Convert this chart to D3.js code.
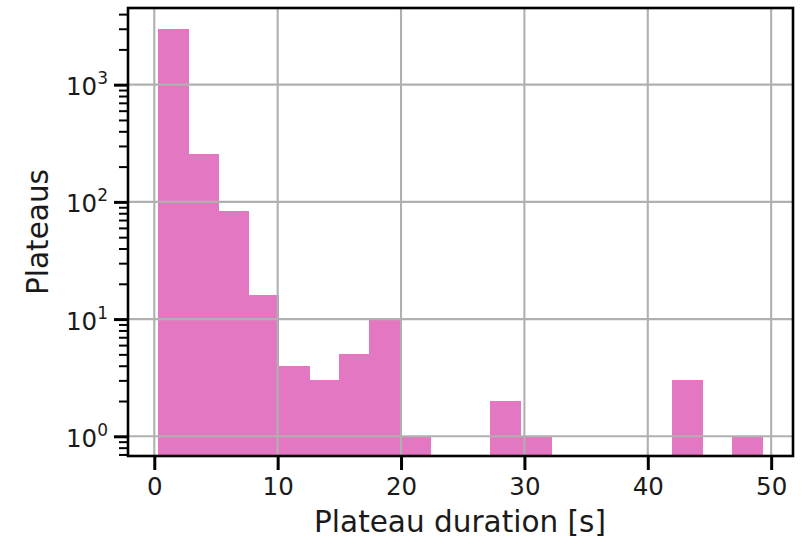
<!DOCTYPE html>
<html>
<head>
<meta charset="utf-8">
<script src="https://cdn.jsdelivr.net/npm/d3@7"></script>
<style>
  html, body { margin: 0; padding: 0; background: #fff; }
  svg { display: block; font-family: "DejaVu Sans", sans-serif; }
</style>
</head>
<body>
<svg id="chart" width="812" height="538"></svg>
<script>
// Data
const binEdges = [0.28, 2.73, 5.18, 7.64, 10.09, 12.54, 14.99, 17.44, 19.89, 22.34,
                  24.80, 27.25, 29.70, 32.15, 34.60, 37.05, 39.50, 41.96, 44.41, 46.86, 49.31];
const counts = [3000, 255, 84, 16, 4, 3, 5, 10, 1, 0, 0, 2, 1, 0, 0, 0, 0, 3, 0, 1];
const xTicks = [0, 10, 20, 30, 40, 50];
const yMajorTicks = [1, 10, 100, 1000];
const yTickExponents = ["0", "1", "2", "3"];
const xLabel = "Plateau duration [s]";
const yLabel = "Plateaus";

const svg = d3.select("#chart");
const m = { left: 128, top: 8, right: 793, bottom: 456 };

const x = d3.scaleLinear().domain([-2.13, 51.77]).range([m.left, m.right]);
const y = d3.scaleLog().domain([0.679, 4510]).range([m.bottom, m.top]);

const bins = counts.map((c, i) => ({ x0: binEdges[i], x1: binEdges[i + 1], c }));

// clip
svg.append("defs").append("clipPath").attr("id", "clip")
  .append("rect").attr("x", m.left).attr("y", m.top)
  .attr("width", m.right - m.left).attr("height", m.bottom - m.top);

const plot = svg.append("g").attr("clip-path", "url(#clip)");

// bars
plot.selectAll("rect.bar").data(bins.filter(d => d.c > 0)).enter()
  .append("rect").attr("class", "bar")
  .attr("x", d => x(d.x0))
  .attr("width", d => x(d.x1) - x(d.x0) + 0.6)
  .attr("y", d => y(d.c))
  .attr("height", d => m.bottom + 5 - y(d.c))
  .attr("fill", "#e377c2")
  .attr("shape-rendering", "crispEdges");

// grid (drawn over bars)
const gridColor = "#b0b0b0";
plot.selectAll("line.gx").data(xTicks).enter().append("line")
  .attr("x1", d => x(d)).attr("x2", d => x(d))
  .attr("y1", m.top).attr("y2", m.bottom)
  .attr("stroke", gridColor).attr("stroke-width", 2.1);
plot.selectAll("line.gy").data(yMajorTicks).enter().append("line")
  .attr("x1", m.left).attr("x2", m.right)
  .attr("y1", d => y(d)).attr("y2", d => y(d))
  .attr("stroke", gridColor).attr("stroke-width", 2.1);

// x axis
const xAxis = d3.axisBottom(x).tickValues(xTicks).tickSize(14).tickPadding(8)
  .tickFormat(d3.format("d"));
const gx = svg.append("g").attr("transform", `translate(0,${m.bottom})`).call(xAxis);
gx.select(".domain").remove();
gx.selectAll(".tick line").attr("stroke", "#000").attr("stroke-width", 3);
gx.selectAll(".tick text").attr("font-size", 24.5).attr("fill", "#1a1a1a")
  .attr("font-family", "DejaVu Sans");

// y axis minor ticks
const yMinor = [];
[0.1, 1, 10, 100, 1000].forEach(dec => {
  for (let k = 2; k <= 9; k++) {
    const v = dec * k;
    if (v >= y.domain()[0] && v <= y.domain()[1]) yMinor.push(v);
  }
});
const gyMinor = svg.append("g").attr("transform", `translate(${m.left},0)`)
  .call(d3.axisLeft(y).tickValues(yMinor).tickSize(9).tickFormat(""));
gyMinor.select(".domain").remove();
gyMinor.selectAll(".tick line").attr("stroke", "#000").attr("stroke-width", 2);

// y axis major ticks
const gy = svg.append("g").attr("transform", `translate(${m.left},0)`)
  .call(d3.axisLeft(y).tickValues(yMajorTicks).tickSize(14).tickFormat(""));
gy.select(".domain").remove();
gy.selectAll(".tick line").attr("stroke", "#000").attr("stroke-width", 3);

// y major tick labels with superscript
const ylab = svg.append("g");
yMajorTicks.forEach((v, i) => {
  const t = ylab.append("text")
    .attr("x", 108).attr("y", y(v) + 10.5)
    .attr("text-anchor", "end")
    .attr("font-size", 24.5).attr("fill", "#1a1a1a");
  t.append("tspan").text("10");
  t.append("tspan").attr("dy", -11).attr("font-size", 17).text(yTickExponents[i]);
});

// spines
svg.append("rect")
  .attr("x", m.left).attr("y", m.top)
  .attr("width", m.right - m.left).attr("height", m.bottom - m.top)
  .attr("fill", "none").attr("stroke", "#000").attr("stroke-width", 2.6);

// axis labels
svg.append("text")
  .attr("x", (m.left + m.right) / 2 - 0.5).attr("y", 532)
  .attr("text-anchor", "middle").attr("font-size", 29.5).attr("fill", "#1a1a1a")
  .text(xLabel);
svg.append("text")
  .attr("transform", `translate(48,${(m.top + m.bottom) / 2}) rotate(-90)`)
  .attr("text-anchor", "middle").attr("font-size", 29.5).attr("fill", "#1a1a1a")
  .text(yLabel);
</script>
</body>
</html>
